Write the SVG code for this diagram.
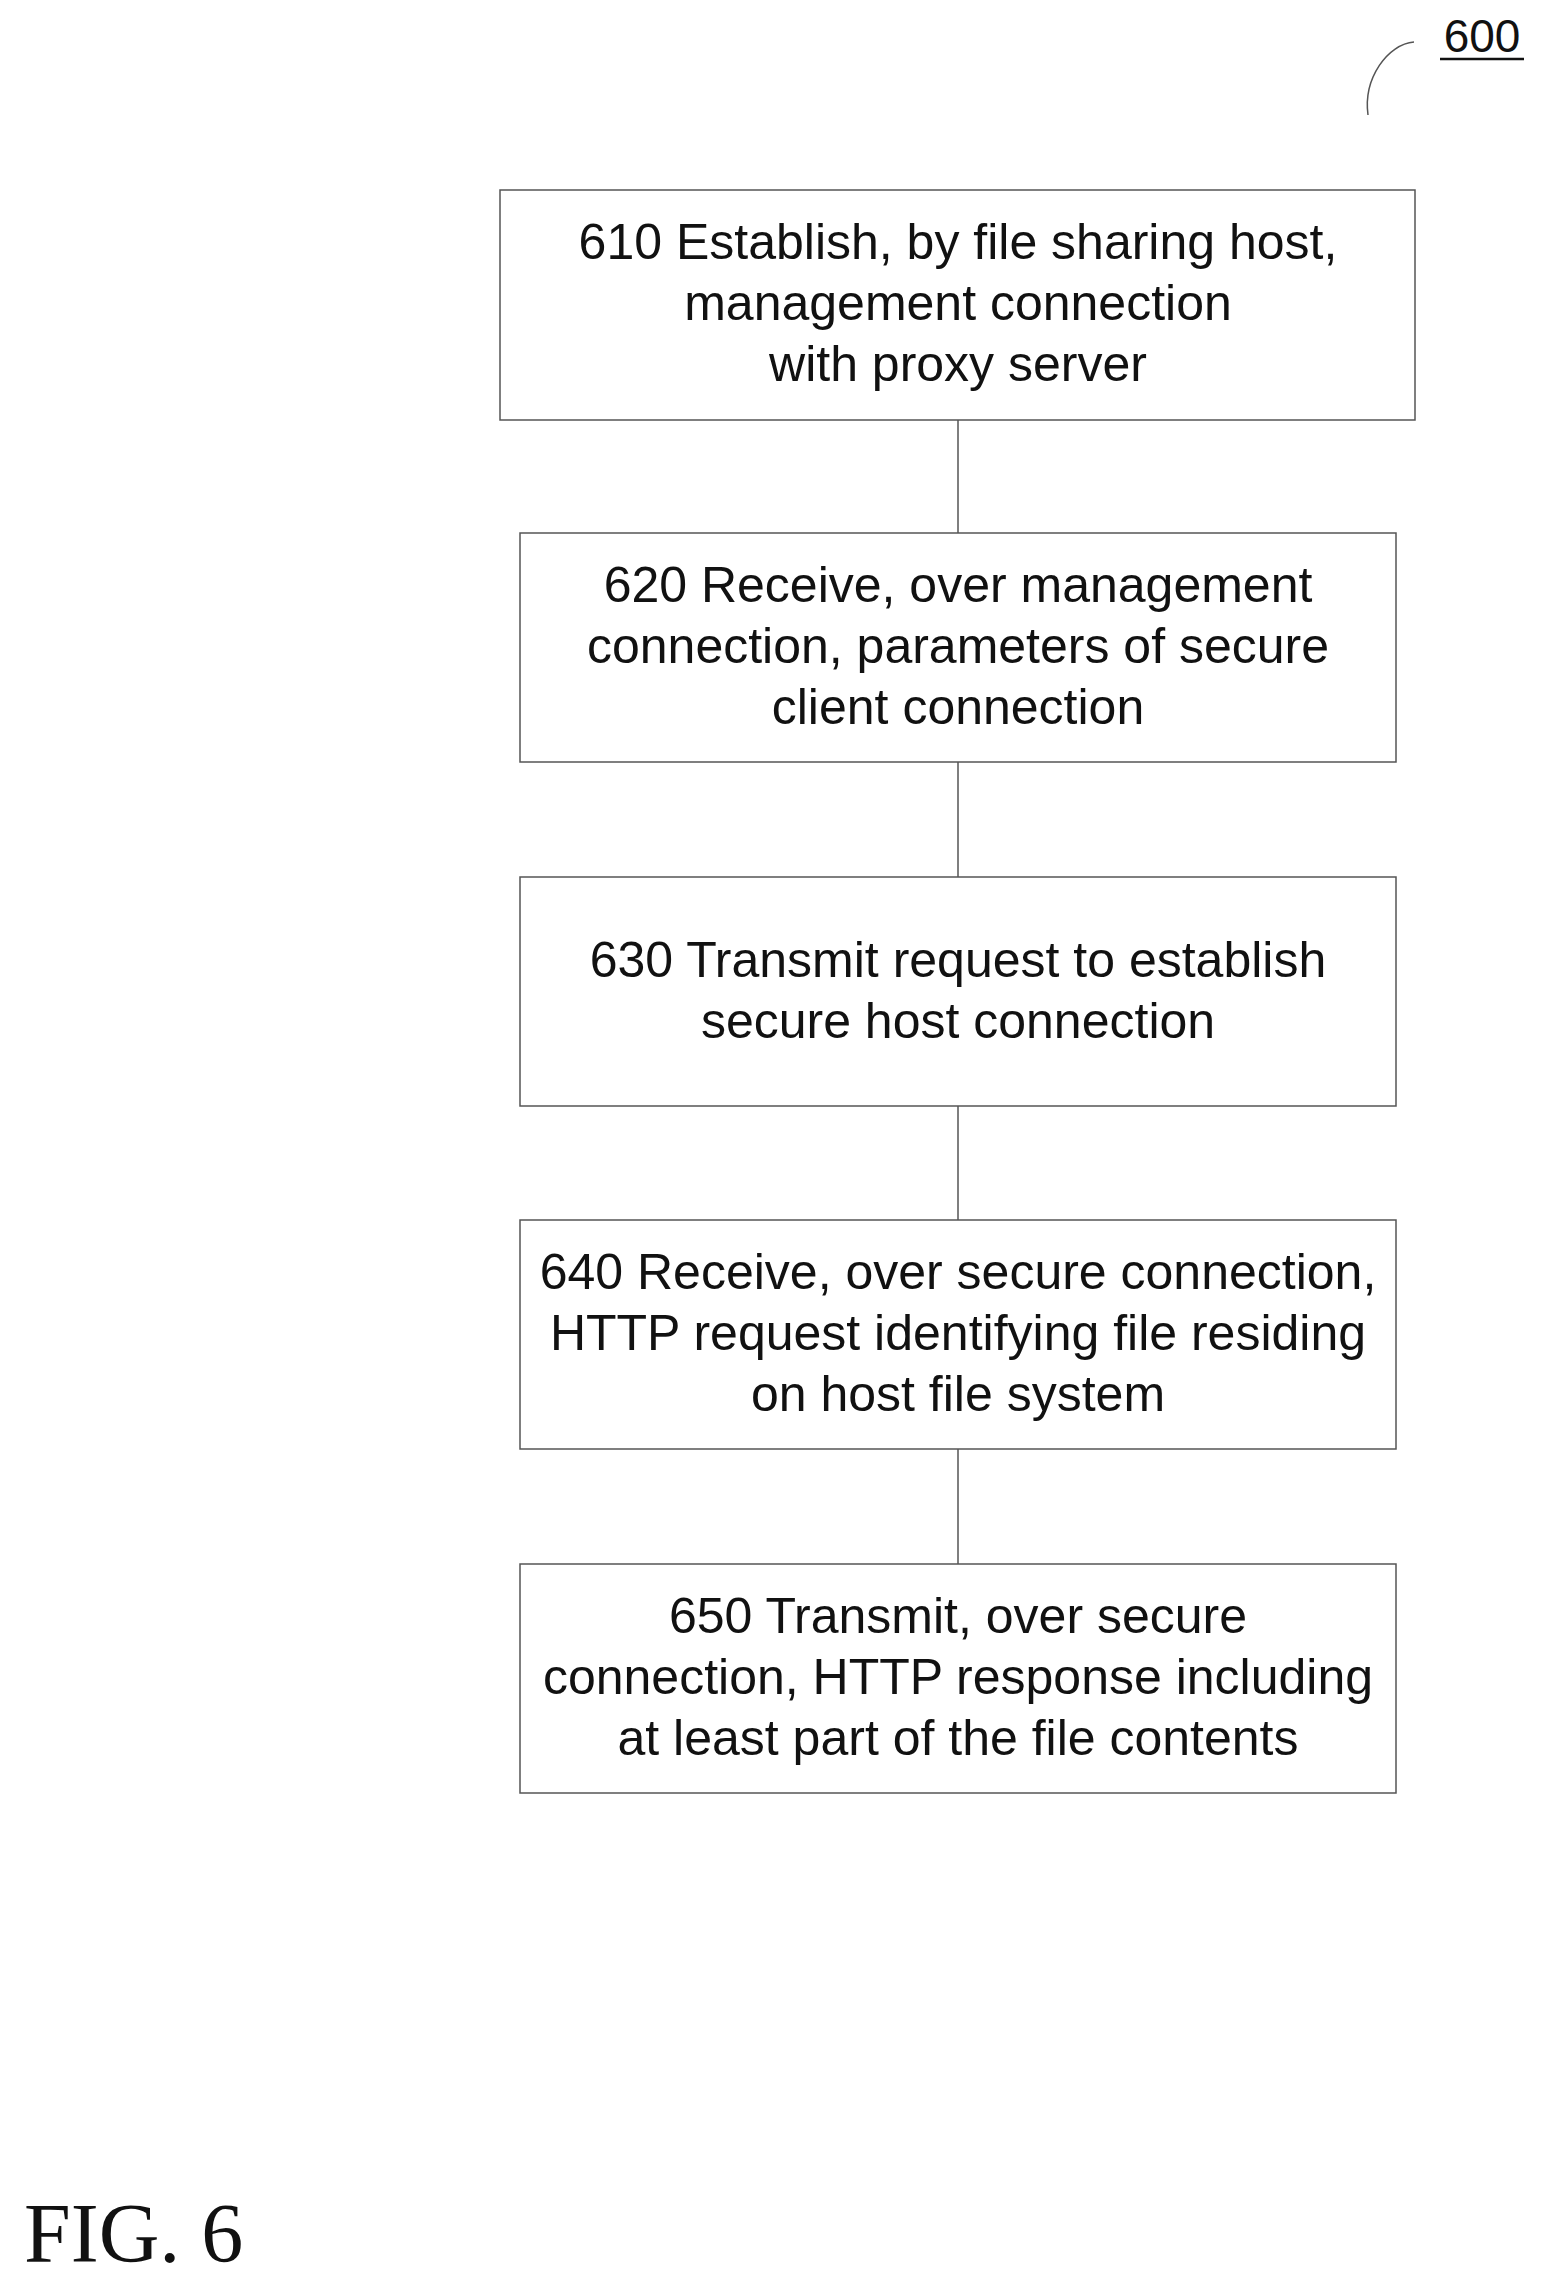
<svg xmlns="http://www.w3.org/2000/svg" width="1547" height="2283" viewBox="0 0 1547 2283">
<style>
.b{fill:#fff;stroke:#555;stroke-width:1.5}
.t{font-family:"Liberation Sans",Arial,sans-serif;font-size:50px;fill:#111;text-anchor:middle}
.c{stroke:#555;stroke-width:1.5;fill:none}
</style>
<rect width="1547" height="2283" fill="#fff"/>
<g id="label600">
<text x="1482" y="52" font-family="Liberation Sans,Arial,sans-serif" font-size="46" text-anchor="middle" fill="#111">600</text>
<line x1="1440" y1="59" x2="1524" y2="59" stroke="#111" stroke-width="2.5"/>
<path class="c" d="M1414,42 C1388,44 1363,78 1368,115" stroke-width="2"/>
</g>
<g id="connectors">
<line class="c" x1="958" y1="420" x2="958" y2="533"/>
<line class="c" x1="958" y1="762" x2="958" y2="877"/>
<line class="c" x1="958" y1="1106" x2="958" y2="1220"/>
<line class="c" x1="958" y1="1449" x2="958" y2="1564"/>
</g>
<g id="n610"><rect class="b" x="500" y="190" width="915" height="230"/>
<text class="t" x="958" y="259">610 Establish, by file sharing host,</text>
<text class="t" x="958" y="320">management connection</text>
<text class="t" x="958" y="381">with proxy server</text></g>
<g id="n620"><rect class="b" x="520" y="533" width="876" height="229"/>
<text class="t" x="958" y="602">620 Receive, over management</text>
<text class="t" x="958" y="663">connection, parameters of secure</text>
<text class="t" x="958" y="724">client connection</text></g>
<g id="n630"><rect class="b" x="520" y="877" width="876" height="229"/>
<text class="t" x="958" y="977">630 Transmit request to establish</text>
<text class="t" x="958" y="1038">secure host connection</text></g>
<g id="n640"><rect class="b" x="520" y="1220" width="876" height="229"/>
<text class="t" x="958" y="1289">640 Receive, over secure connection,</text>
<text class="t" x="958" y="1350">HTTP request identifying file residing</text>
<text class="t" x="958" y="1411">on host file system</text></g>
<g id="n650"><rect class="b" x="520" y="1564" width="876" height="229"/>
<text class="t" x="958" y="1633">650 Transmit, over secure</text>
<text class="t" x="958" y="1694">connection, HTTP response including</text>
<text class="t" x="958" y="1755">at least part of the file contents</text></g>
<text x="24" y="2262" font-family="Liberation Serif,Times New Roman,serif" font-size="84" fill="#111">FIG. 6</text>
</svg>
